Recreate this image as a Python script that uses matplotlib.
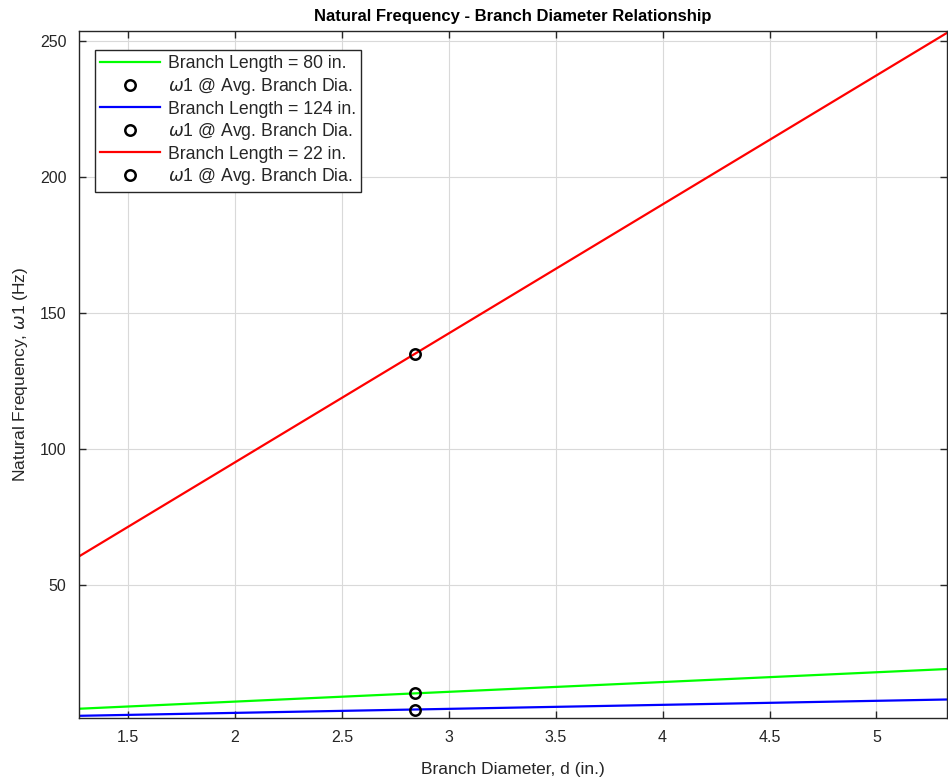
import numpy as np
import matplotlib.pyplot as plt

plt.rcParams['font.family'] = ['Liberation Sans', 'DejaVu Sans']
plt.rcParams['mathtext.fontset'] = 'dejavusans'

# branch diameter range (in.)
dia = [1.27, 5.33]
# natural frequency at the ends of the range (Hz)
freq_80 = [4.5, 19.1]
freq_124 = [1.9, 7.9]
freq_22 = [60.5, 253.0]
# w1 at the average branch diameter
avg_dia = 2.84
w1_80 = 10.2
w1_124 = 4.2
w1_22 = 134.8

x_ticks = [1.5, 2, 2.5, 3, 3.5, 4, 4.5, 5]
y_ticks = [50, 100, 150, 200, 250]
y_range = [1.1, 253.7]

fig = plt.figure(figsize=(9.48, 7.84), dpi=100)
ax = fig.add_axes([0.0833, 0.0842, 0.9156, 0.8763])

ax.plot(dia, freq_80, color='#00ff00', lw=1.6, label='Branch Length = 80 in.')
ax.plot(avg_dia, w1_80, 'o', mfc='none', mec='black', ms=7.5, mew=1.8,
        label=r'$\omega$1 @ Avg. Branch Dia.')
ax.plot(dia, freq_124, color='#0000ff', lw=1.6, label='Branch Length = 124 in.')
ax.plot(avg_dia, w1_124, 'o', mfc='none', mec='black', ms=7.5, mew=1.8,
        label=r'$\omega$1 @ Avg. Branch Dia.')
ax.plot(dia, freq_22, color='#ff0000', lw=1.6, label='Branch Length = 22 in.')
ax.plot(avg_dia, w1_22, 'o', mfc='none', mec='black', ms=7.5, mew=1.8,
        label=r'$\omega$1 @ Avg. Branch Dia.')

ax.set_xlim(dia[0], dia[1])
ax.set_ylim(y_range)
ax.set_xticks(x_ticks)
ax.set_xticklabels([f'{t:g}' for t in x_ticks])
ax.set_yticks(y_ticks)

ax.grid(True, color='#d9d9d9', lw=0.8)
ax.set_axisbelow(True)
for s in ax.spines.values():
    s.set_color('#262626')
    s.set_linewidth(1.0)
ax.tick_params(direction='in', top=True, right=True, length=5, width=1,
               colors='#262626', labelsize=11.5, pad=9)

ax.set_title('Natural Frequency - Branch Diameter Relationship',
             fontsize=12, fontweight='bold', pad=7)
ax.set_xlabel('Branch Diameter, d (in.)', fontsize=12.5, color='#262626', labelpad=12)
ax.set_ylabel(r'Natural Frequency, $\omega$1 (Hz)', fontsize=12.5, color='#262626',
              labelpad=7)

leg = ax.legend(loc='upper left', bbox_to_anchor=(0.018, 0.972), borderaxespad=0,
                fontsize=12.7, handlelength=3.4, labelspacing=0.2,
                fancybox=False, framealpha=1, edgecolor='#262626',
                borderpad=0.3, handletextpad=0.45)
leg.get_frame().set_linewidth(1.0)
for t in leg.get_texts():
    t.set_color('#262626')

fig.savefig('out.png', dpi=100)
